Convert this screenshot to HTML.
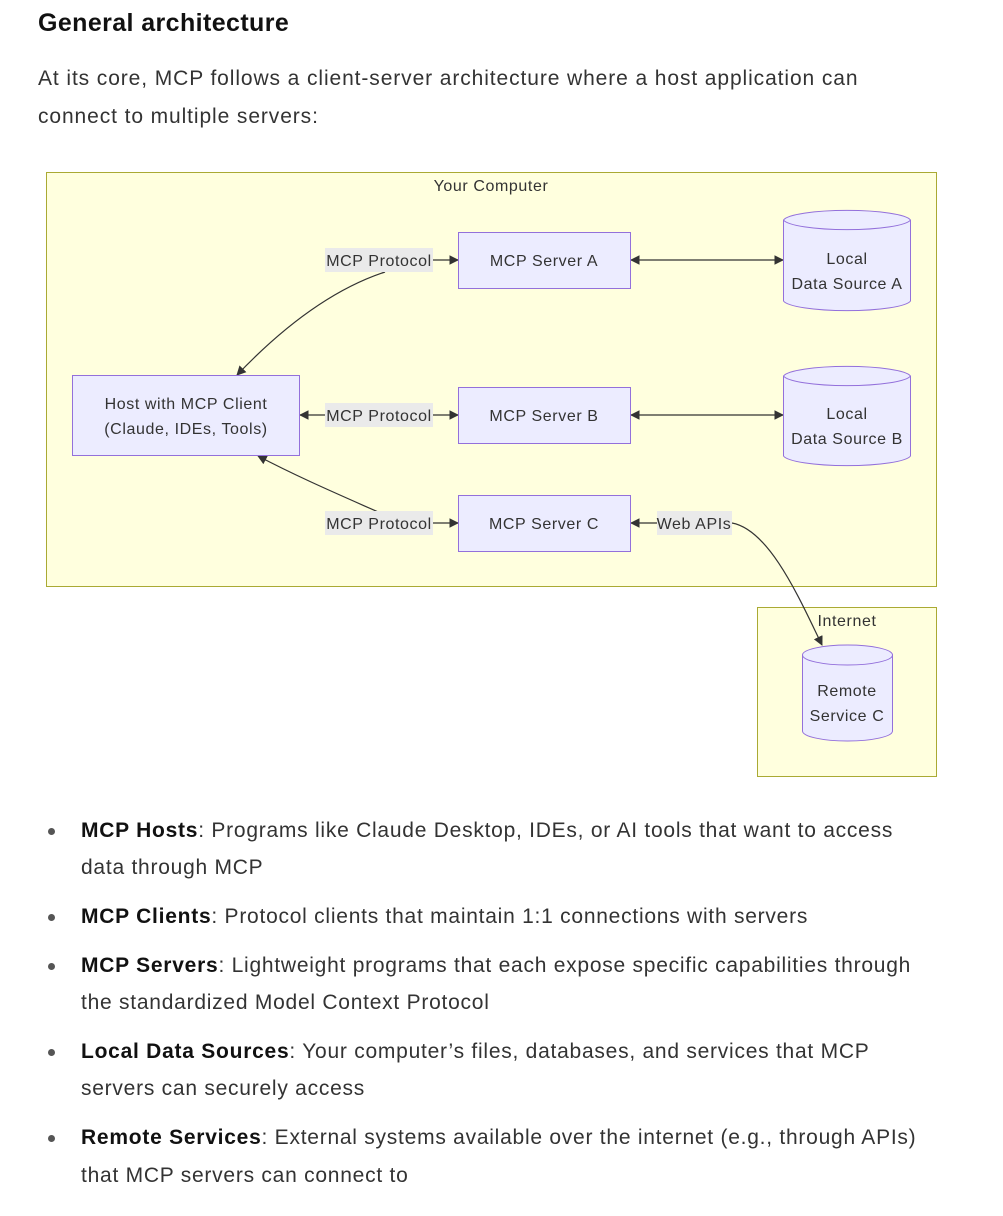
<!DOCTYPE html>
<html><head><meta charset="utf-8"><style>
body{margin:0;width:1003px;height:1216px;background:#fff;position:relative;font-family:"Liberation Sans",sans-serif;color:#222;overflow:hidden}
.t{position:absolute;left:38px;white-space:nowrap}
h1{position:absolute;left:38px;top:9px;margin:0;font-size:25px;font-weight:bold;color:#111;letter-spacing:0.4px}
.p{font-size:21px;color:#333;letter-spacing:0.9px}
.li{position:absolute;left:81px;font-size:21px;color:#333;white-space:nowrap;letter-spacing:0.75px}
.li b{color:#111}
.dot{position:absolute;left:48px;width:7px;height:7px;border-radius:50%;background:#555}
svg{position:absolute;left:0;top:0}
svg text{font-family:"Liberation Sans",sans-serif;font-size:16px;fill:#333;letter-spacing:0.6px}
</style></head><body>
<h1>General architecture</h1>
<div class="t p" style="top:67px">At its core, MCP follows a client-server architecture where a host application can</div>
<div class="t p" style="top:105px">connect to multiple servers:</div>

<svg width="1003" height="800" viewBox="0 0 1003 800">
<defs><marker id="a" viewBox="0 0 10 10" refX="9" refY="5" markerWidth="8" markerHeight="8" orient="auto-start-reverse"><path d="M0,0L10,5L0,10z" fill="#333"/></marker></defs>
<rect x="46.5" y="172.5" width="890" height="414" fill="#ffffde" stroke="#aaaa33"/>
<text x="491" y="191" text-anchor="middle">Your Computer</text>
<rect x="757.5" y="607.5" width="179" height="169" fill="#ffffde" stroke="#aaaa33"/>
<text x="847" y="626" text-anchor="middle">Internet</text>
<g fill="none" stroke="#333" stroke-width="1.2">
<path d="M433,260 L458,260" marker-end="url(#a)"/>
<path d="M385,272 C330,290 280,330 237,375" marker-end="url(#a)"/>
<path d="M300,415 L325,415" marker-start="url(#a)"/>
<path d="M433,415 L458,415" marker-end="url(#a)"/>
<path d="M433,523 L458,523" marker-end="url(#a)"/>
<path d="M385,515 C340,495 300,478 258,456" marker-end="url(#a)"/>
<path d="M631,260 L783,260" marker-start="url(#a)" marker-end="url(#a)"/>
<path d="M631,415 L783,415" marker-start="url(#a)" marker-end="url(#a)"/>
<path d="M657,523 L631,523" marker-end="url(#a)"/>
<path d="M732,523 C770,530 800,600 822,645" marker-end="url(#a)"/>
</g>
<g fill="#eaeaea"><rect x="325" y="248" width="108" height="24"/><rect x="325" y="403" width="108" height="24"/><rect x="325" y="511" width="108" height="24"/><rect x="657" y="511" width="75" height="24"/></g>
<text x="379" y="266" text-anchor="middle">MCP Protocol</text>
<text x="379" y="421" text-anchor="middle">MCP Protocol</text>
<text x="379" y="529" text-anchor="middle">MCP Protocol</text>
<text x="694" y="529" text-anchor="middle">Web APIs</text>
<g fill="#ececff" stroke="#9370db">
<rect x="458.5" y="232.5" width="172" height="56"/>
<rect x="458.5" y="387.5" width="172" height="56"/>
<rect x="458.5" y="495.5" width="172" height="56"/>
<rect x="72.5" y="375.5" width="227" height="80"/>
<path d="M783.5,220 a64,11 0 0 1 127,0 v81 a64,11 0 0 1 -127,0 z"/><path d="M783.5,220 a64,11 0 0 0 127,0" fill="none"/>
<path d="M783.5,376 a64,11 0 0 1 127,0 v80 a64,11 0 0 1 -127,0 z"/><path d="M783.5,376 a64,11 0 0 0 127,0" fill="none"/>
<path d="M802.5,655 a45,10 0 0 1 90,0 v76 a45,10 0 0 1 -90,0 z"/><path d="M802.5,655 a45,10 0 0 0 90,0" fill="none"/>
</g>
<text x="544" y="266" text-anchor="middle">MCP Server A</text>
<text x="544" y="421" text-anchor="middle">MCP Server B</text>
<text x="544" y="529" text-anchor="middle">MCP Server C</text>
<text x="186" y="409" text-anchor="middle">Host with MCP Client</text>
<text x="186" y="434" text-anchor="middle">(Claude, IDEs, Tools)</text>
<text x="847" y="264" text-anchor="middle">Local</text>
<text x="847" y="289" text-anchor="middle">Data Source A</text>
<text x="847" y="419" text-anchor="middle">Local</text>
<text x="847" y="444" text-anchor="middle">Data Source B</text>
<text x="847" y="696" text-anchor="middle">Remote</text>
<text x="847" y="721" text-anchor="middle">Service C</text>
</svg>

<div class="dot" style="top:828px"></div>
<div class="li" style="top:819px"><b>MCP Hosts</b>: Programs like Claude Desktop, IDEs, or AI tools that want to access</div>
<div class="li" style="top:856px">data through MCP</div>
<div class="dot" style="top:914px"></div>
<div class="li" style="top:905px"><b>MCP Clients</b>: Protocol clients that maintain 1:1 connections with servers</div>
<div class="dot" style="top:963px"></div>
<div class="li" style="top:954px"><b>MCP Servers</b>: Lightweight programs that each expose specific capabilities through</div>
<div class="li" style="top:991px">the standardized Model Context Protocol</div>
<div class="dot" style="top:1049px"></div>
<div class="li" style="top:1040px"><b>Local Data Sources</b>: Your computer’s files, databases, and services that MCP</div>
<div class="li" style="top:1077px">servers can securely access</div>
<div class="dot" style="top:1135px"></div>
<div class="li" style="top:1126px"><b>Remote Services</b>: External systems available over the internet (e.g., through APIs)</div>
<div class="li" style="top:1164px">that MCP servers can connect to</div>
</body></html>
